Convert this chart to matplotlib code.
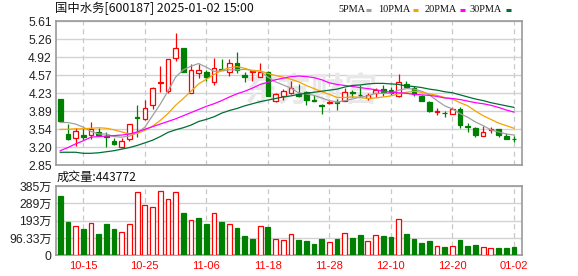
import numpy as np
import matplotlib
matplotlib.use("Agg")
import matplotlib.pyplot as plt
from matplotlib.lines import Line2D

dates = ["10-10", "10-11", "10-14", "10-15", "10-16", "10-17", "10-18", "10-21", "10-22", "10-23",
         "10-24", "10-25", "10-28", "10-29", "10-30", "10-31", "11-01", "11-04", "11-05", "11-06",
         "11-07", "11-08", "11-11", "11-12", "11-13", "11-14", "11-15", "11-18", "11-19", "11-20",
         "11-21", "11-22", "11-25", "11-26", "11-27", "11-28", "11-29", "12-02", "12-03", "12-04",
         "12-05", "12-06", "12-09", "12-10", "12-11", "12-12", "12-13", "12-16", "12-17", "12-18",
         "12-19", "12-20", "12-23", "12-24", "12-25", "12-26", "12-27", "12-30", "12-31", "01-02"]
tick_dates = ["10-15", "10-25", "11-06", "11-18", "11-28", "12-10", "12-20", "01-02"]

open_ = [4.12, 3.45, 3.37, 3.43, 3.44, 3.49, 3.405, 3.32, 3.20, 3.345,
         3.78, 3.74, 4.005, 4.43, 4.28, 4.90, 5.09, 4.23, 4.61, 4.64,
         4.45, 4.70, 4.645, 4.805, 4.58, 4.645, 4.535, 4.63, 4.09, 4.185,
         4.23, 4.22, 4.25, 4.095, 3.995, 4.04, 4.06, 4.09, 4.24, 4.20,
         4.135, 4.23, 4.305, 4.29, 4.18, 4.41, 4.325, 4.185, 4.07, 3.875,
         3.855, 3.83, 3.92, 3.595, 3.56, 3.42, 3.525, 3.54, 3.42, 3.355]
high = [4.13, 3.64, 3.56, 3.56, 3.675, 3.56, 3.48, 3.37, 3.37, 3.64,
        4.005, 4.10, 4.36, 4.75, 4.88, 5.39, 5.09, 4.79, 4.785, 4.68,
        4.90, 4.88, 4.88, 5.015, 4.645, 4.645, 4.82, 4.66, 4.24, 4.31,
        4.47, 4.41, 4.28, 4.20, 4.025, 4.10, 4.12, 4.325, 4.29, 4.39,
        4.24, 4.325, 4.39, 4.345, 4.60, 4.47, 4.37, 4.20, 4.09, 3.94,
        3.90, 3.96, 3.96, 3.655, 3.58, 3.61, 3.59, 3.545, 3.475, 3.41]
low = [3.70, 3.335, 3.226, 3.335, 3.35, 3.41, 3.20, 3.23, 3.19, 3.32,
       3.40, 3.72, 3.92, 4.26, 4.23, 4.84, 4.645, 4.23, 4.52, 4.47,
       4.38, 4.68, 4.57, 4.61, 4.45, 4.47, 4.535, 4.185, 4.06, 4.10,
       4.22, 4.165, 4.005, 4.08, 3.835, 4.02, 3.91, 4.09, 4.15, 4.15,
       4.10, 4.15, 4.18, 4.20, 4.15, 4.325, 4.18, 4.08, 3.88, 3.81,
       3.78, 3.83, 3.56, 3.495, 3.40, 3.42, 3.46, 3.40, 3.36, 3.30]
close = [3.705, 3.36, 3.51, 3.385, 3.54, 3.44, 3.385, 3.265, 3.315, 3.635,
         3.76, 3.94, 4.325, 4.445, 4.88, 5.09, 4.645, 4.68, 4.68, 4.535,
         4.72, 4.68, 4.805, 4.675, 4.55, 4.645, 4.645, 4.185, 4.21, 4.275,
         4.325, 4.18, 4.10, 4.085, 3.99, 4.07, 4.04, 4.255, 4.235, 4.19,
         4.19, 4.29, 4.26, 4.24, 4.455, 4.355, 4.22, 4.09, 3.90, 3.885,
         3.845, 3.93, 3.62, 3.59, 3.43, 3.48, 3.53, 3.43, 3.36, 3.345]

ma5 = [3.67, 3.67, 3.64, 3.58, 3.50, 3.45, 3.45, 3.40, 3.39, 3.41,
       3.47, 3.58, 3.80, 4.02, 4.27, 4.54, 4.68, 4.75, 4.80, 4.73,
       4.65, 4.66, 4.68, 4.68, 4.69, 4.67, 4.66, 4.54, 4.45, 4.39,
       4.33, 4.24, 4.22, 4.19, 4.14, 4.09, 4.06, 4.09, 4.12, 4.16,
       4.18, 4.23, 4.23, 4.23, 4.29, 4.32, 4.31, 4.27, 4.20, 4.09,
       3.99, 3.93, 3.84, 3.77, 3.68, 3.61, 3.53, 3.49, 3.45, 3.43]
ma10 = [3.54, 3.54, 3.55, 3.55, 3.56, 3.57, 3.56, 3.53, 3.49, 3.45,
        3.46, 3.52, 3.60, 3.71, 3.84, 4.00, 4.13, 4.27, 4.41, 4.50,
        4.59, 4.67, 4.72, 4.74, 4.71, 4.66, 4.66, 4.61, 4.57, 4.54,
        4.50, 4.45, 4.38, 4.32, 4.26, 4.21, 4.15, 4.15, 4.16, 4.15,
        4.13, 4.14, 4.16, 4.18, 4.22, 4.25, 4.27, 4.25, 4.22, 4.19,
        4.15, 4.12, 4.05, 3.99, 3.89, 3.80, 3.73, 3.66, 3.61, 3.56]
ma20 = [3.13, 3.19, 3.26, 3.32, 3.39, 3.40, 3.41, 3.42, 3.43, 3.45,
        3.49, 3.54, 3.59, 3.64, 3.69, 3.74, 3.80, 3.86, 3.92, 3.98,
        4.03, 4.09, 4.16, 4.22, 4.27, 4.33, 4.40, 4.44, 4.49, 4.52,
        4.55, 4.56, 4.55, 4.53, 4.49, 4.43, 4.40, 4.38, 4.36, 4.34,
        4.32, 4.30, 4.27, 4.25, 4.24, 4.23, 4.21, 4.20, 4.19, 4.17,
        4.14, 4.13, 4.11, 4.08, 4.05, 4.03, 4.00, 3.96, 3.91, 3.87]
ma30 = [3.10, 3.10, 3.10, 3.08, 3.08, 3.09, 3.11, 3.13, 3.16, 3.19,
        3.23, 3.28, 3.33, 3.40, 3.48, 3.53, 3.57, 3.62, 3.69, 3.73,
        3.78, 3.85, 3.90, 3.94, 3.99, 4.03, 4.07, 4.10, 4.13, 4.16,
        4.18, 4.21, 4.23, 4.25, 4.27, 4.29, 4.31, 4.35, 4.38, 4.39,
        4.41, 4.42, 4.42, 4.41, 4.40, 4.37, 4.36, 4.34, 4.31, 4.29,
        4.26, 4.24, 4.20, 4.16, 4.12, 4.09, 4.05, 4.02, 3.99, 3.96]

# volume in 万 (10k shares)
volume = [329, 185, 161, 146, 178, 118, 174, 146, 130, 172,
          352, 278, 268, 355, 311, 352, 235, 196, 207, 174,
          235, 185, 172, 152, 107, 91, 161, 157, 91, 85,
          117, 85, 80, 63, 91, 74, 91, 122, 96, 113,
          78, 111, 107, 102, 200, 118, 91, 68, 80, 50,
          46, 50, 85, 52, 57, 44, 41, 41, 41, 44.38]
vol_dir = "GGRGRGGGRRRRRRRRGRGGRGRGGGRGRRRGGGGRGRGGRRGGRGGGGRGRGGGRRGGG"

price_ticks = ["2.85", "3.20", "3.54", "3.89", "4.23", "4.57", "4.92", "5.26", "5.61"]
vol_ticks = ["0", "96.33万", "193万", "289万", "385万"]
ma_names = ["5PMA", "10PMA", "20PMA", "30PMA"]

RED = "#ff0000"
GREEN = "#008000"
ma_colors = ["#a0a0a0", "#f5a300", "#ff00ff", "#006e35"]
CJK = ["Noto Sans CJK SC", "DejaVu Sans"]
NUM = ["Liberation Sans", "Noto Sans CJK SC"]

o = np.array(open_)
c = np.array(close)
x = np.arange(len(c))
up = c >= o
edge = np.where(up, RED, GREEN)
face = np.where(up, "white", GREEN)

W, H = 578, 276
fig = plt.figure(figsize=(W / 100, H / 100), dpi=100)
ax = fig.add_axes([56 / W, 1 - 165.3 / H, 466 / W, 144 / H])
axv = fig.add_axes([56 / W, 1 - 255.3 / H, 466 / W, 69.3 / H])

# candles
ax.vlines(x, low, high, colors=edge, lw=0.9, zorder=2)
ax.bar(x, np.maximum(np.abs(c - o), 0.012), bottom=np.minimum(o, c), width=0.6,
       color=face, edgecolor=edge, linewidth=0.9, zorder=3)
for ma, col in zip([ma5, ma10, ma20, ma30], ma_colors):
    ax.plot(x, ma, color=col, lw=0.9, zorder=4)

ax.text(0.547, 0.509, "东方财富", transform=ax.transAxes, ha="center", va="center",
        fontsize=24, fontweight="bold", color="#e8e8e8", family=CJK, zorder=1)

# volume
vcol = [RED if d == "R" else GREEN for d in vol_dir]
vface = ["white" if d == "R" else GREEN for d in vol_dir]
axv.bar(x, volume, width=0.62, color=vface, edgecolor=vcol, linewidth=0.9, zorder=3)

tick_idx = [dates.index(d) for d in tick_dates]
for a in (ax, axv):
    a.set_xlim(-0.55, 60.05)
    a.set_xticks(tick_idx)
    a.set_axisbelow(True)
    a.grid(axis="y", color="#d2d2d2", lw=1)
    a.grid(axis="x", color="#c8c8c8", lw=0.9, ls=(0, (4, 3)))
    for s in a.spines.values():
        s.set_color("#999999")
        s.set_linewidth(1.2)
    a.tick_params(length=0, pad=3, labelsize=8.7, labelcolor="#222222")

ax.set_ylim(2.85, 5.61)
ax.set_yticks(np.linspace(2.85, 5.61, 9))
ax.set_yticklabels(price_ticks, family=NUM)
ax.set_xticklabels([])

axv.set_ylim(0, 385.3)
axv.set_yticks(np.linspace(0, 385.3, 5))
axv.set_yticklabels(vol_ticks, family=NUM)
axv.set_xticklabels(tick_dates, family=NUM, color=RED, fontsize=8)
axv.tick_params(axis="x", pad=4)

fig.text(55 / W, 1 - 8.5 / H, "国中水务[600187] 2025-01-02 15:00", family=CJK,
         fontsize=8.9, va="center", color="#111111")
fig.text(57 / W, 1 - 177 / H, "成交量:443772", family=CJK,
         fontsize=8.7, va="center", color="#111111")

# legend
lx = [338, 378.5, 424.5, 470]
mx = [366, 413, 459.5, 506]
for name, col, tx, m in zip(ma_names, ma_colors, lx, mx):
    fig.text(tx / W, 1 - 9 / H, name, family="Liberation Serif", fontsize=7.4,
             va="center", color="#111111")
    fig.add_artist(Line2D([m / W, (m + 5) / W], [1 - 10 / H, 1 - 10 / H],
                          transform=fig.transFigure, color=col, lw=2.2,
                          solid_capstyle="butt"))

fig.savefig("out.png", dpi=100)
